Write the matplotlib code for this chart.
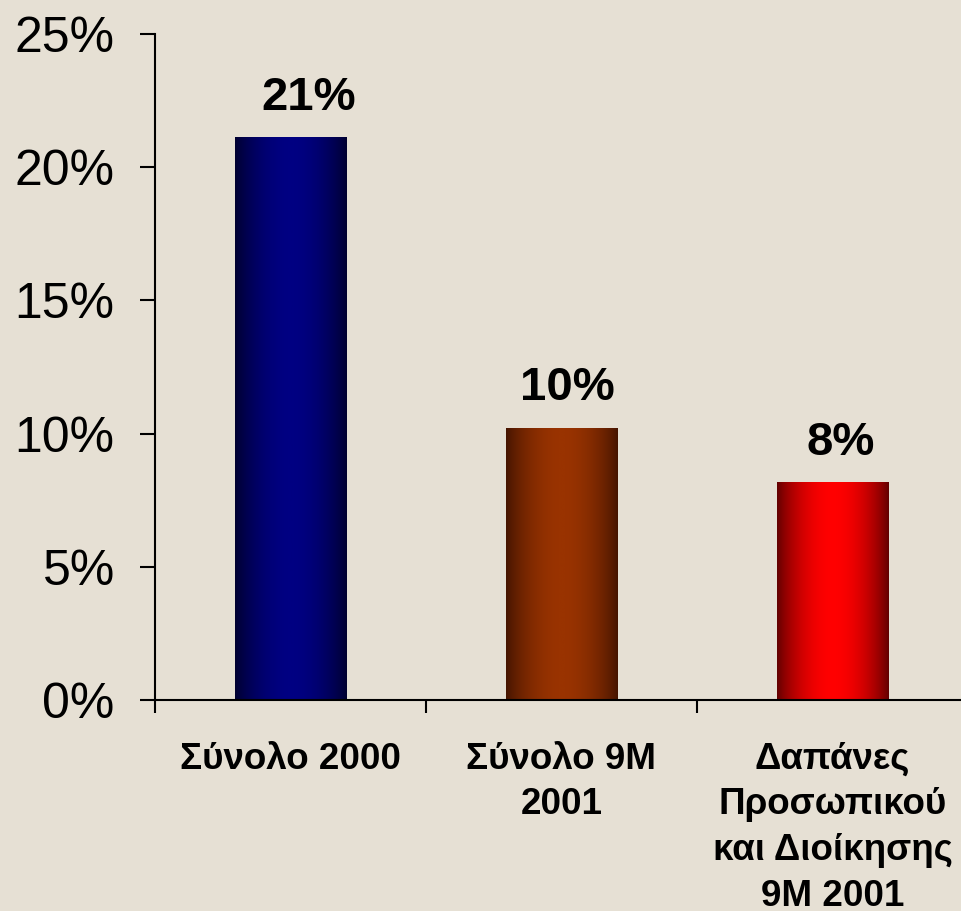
import numpy as np
import matplotlib
matplotlib.use("Agg")
from matplotlib import pyplot as plt
from matplotlib.colors import LinearSegmentedColormap

# data
categories = ["Σύνολο 2000", "Σύνολο 9M\n2001", "Δαπάνες\nΠροσωπικού\nκαι Διοίκησης\n9M 2001"]
values = [21.1, 10.2, 8.15]
value_labels = ["21%", "10%", "8%"]
yticks = [0, 5, 10, 15, 20, 25]

# edge colour, centre colour for each bar gradient
bar_colors = [("#00002e", "#000082"), ("#441400", "#993300"), ("#600000", "#ff0000")]
# small horizontal nudges of the value labels (points), as in the original slide
label_dx = [13, 4, 6]

bg = "#e6e0d4"
plt.rcParams['font.family'] = ['Liberation Sans', 'DejaVu Sans']

fig = plt.figure(figsize=(9.61, 9.11), dpi=100, facecolor=bg)
ax = fig.add_axes([155/961, 211/911, 813/961, 666/911], facecolor=bg)

pos = np.arange(len(values)) + 0.5
bars = ax.bar(pos, values, width=0.41, color="none", edgecolor="none", zorder=2)

# horizontal gradient, dark at the sides and bright in the middle
t = np.linspace(0, 1, 256)
grad = np.sin(np.pi * t) ** 0.8
grad = grad[np.newaxis, :]
for b, (c_edge, c_mid) in zip(bars, bar_colors):
    cmap = LinearSegmentedColormap.from_list("g", [c_edge, c_mid])
    x0 = b.get_x()
    ax.imshow(grad, cmap=cmap, aspect="auto", zorder=2,
              extent=[x0, x0 + b.get_width(), 0, b.get_height()])

for b, lab, dx in zip(bars, value_labels, label_dx):
    ax.annotate(lab, (b.get_x() + b.get_width()/2, b.get_height()),
                xytext=(dx, 13), textcoords="offset points",
                ha="center", va="bottom", fontsize=34, fontweight="bold")

ax.set_xlim(0, 3)
ax.set_ylim(0, 25)

ax.set_yticks(yticks)
ax.set_yticklabels([f"{v}%" for v in yticks])
ax.set_xticks([0, 1, 2, 3])
ax.set_xticklabels([])
ax.set_xticks(pos, minor=True)
ax.set_xticklabels(categories, minor=True, fontsize=26.5, fontweight="bold", linespacing=1.4)

ax.tick_params(axis="y", direction="out", length=11, width=1.5, pad=18, labelsize=36)
ax.tick_params(axis="x", which="major", direction="out", length=9, width=1.5)
ax.tick_params(axis="x", which="minor", length=0, pad=30)

for s in ["top", "right"]:
    ax.spines[s].set_visible(False)
for s in ["left", "bottom"]:
    ax.spines[s].set_linewidth(1.5)

fig.savefig("out.png", dpi=100, facecolor=bg)
